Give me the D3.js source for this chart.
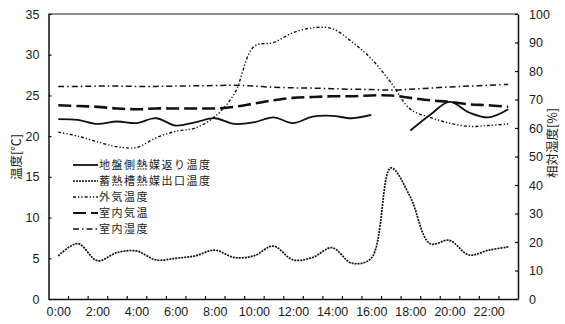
<!DOCTYPE html>
<html>
<head>
<meta charset="utf-8">
<script src="https://cdn.jsdelivr.net/npm/d3@7"></script>
<style>
  html, body { margin: 0; padding: 0; background: #fff; }
  svg { display: block; }
  .num { font-family: "Liberation Sans", Arial, sans-serif; font-size: 12.5px; fill: #1a1a1a; }
  .jp { font-family: "Noto Sans CJK JP", sans-serif; font-size: 12.5px; fill: #1a1a1a; }
  .leg { font-family: "Noto Sans CJK JP", sans-serif; font-size: 11px; letter-spacing: 1.5px; fill: #1a1a1a; }
</style>
</head>
<body>
<svg id="chart" width="565" height="324"></svg>
<script>
// Hourly categories 0:00 .. 23:00
const hours = d3.range(24);
const hourLabels = [0, 2, 4, 6, 8, 10, 12, 14, 16, 18, 20, 22];

// Temperatures [°C] (left axis)
const groundReturnTemp = [22.1, 22.0, 21.5, 21.8, 21.6, 22.2, 21.3, 21.7, 22.2, 21.5, 21.7, 22.3,
                          21.6, 22.4, 22.5, 22.2, 22.6, null, 20.7, 22.6, 24.2, 22.9, 22.3, 23.3];
const storageOutletTemp = [5.3, 6.8, 4.7, 5.7, 5.9, 4.8, 5.0, 5.3, 6.0, 5.1, 5.3, 6.5,
                           4.8, 5.1, 6.3, 4.4, 5.0, 16.1, 12.5, 6.8, 7.2, 5.4, 6.0, 6.4];
const outdoorTemp = [20.5, 20.0, 19.3, 18.7, 18.6, 19.8, 20.6, 21.0, 22.4, 25.2, 31.0, 31.5,
                     32.7, 33.3, 33.2, 31.6, 29.5, 26.6, 23.3, 22.3, 21.6, 21.2, 21.3, 21.5];
const indoorTemp = [23.8, 23.7, 23.6, 23.4, 23.3, 23.4, 23.4, 23.4, 23.4, 23.6, 24.0, 24.4,
                    24.7, 24.8, 24.9, 24.9, 25.0, 25.0, 24.7, 24.4, 24.2, 23.9, 23.8, 23.6];
// Relative humidity [%] (right axis)
const indoorHumidity = [74.6, 74.6, 74.7, 74.7, 74.6, 74.6, 74.7, 74.8, 74.9, 75.0, 74.7, 74.3,
                        74.1, 74.0, 73.8, 73.6, 73.5, 73.3, 73.6, 74.0, 74.4, 74.7, 75.0, 75.3];

const tempTicks = [0, 5, 10, 15, 20, 25, 30, 35];
const humTicks = [0, 10, 20, 30, 40, 50, 60, 70, 80, 90, 100];

const svg = d3.select("#chart");
const plotLeft = 48.5, plotRight = 518, plotTop = 14, plotBottom = 299;

const x = d3.scaleLinear().domain([0, 24]).range([plotLeft, plotRight]);
const yT = d3.scaleLinear().domain([0, 35]).range([plotBottom, plotTop]);
const yH = d3.scaleLinear().domain([0, 100]).range([plotBottom, plotTop]);

// Frame top edge
svg.append("line")
  .attr("x1", plotLeft).attr("x2", plotRight).attr("y1", plotTop).attr("y2", plotTop)
  .attr("stroke", "#222").attr("stroke-width", 1.2);

// Axes
const axisStyle = g => {
  g.select(".domain").attr("stroke", "#111").attr("stroke-width", 1.5);
  g.selectAll(".tick line").attr("stroke", "#111").attr("stroke-width", 1.2);
  g.selectAll("text").attr("class", "num").attr("fill", null);
  g.attr("font-family", null).attr("font-size", null);
};

svg.append("g").attr("transform", `translate(${plotLeft},0)`)
  .call(d3.axisLeft(yT).tickValues(tempTicks).tickSizeInner(-3).tickSizeOuter(0).tickPadding(9))
  .call(axisStyle);

svg.append("g").attr("transform", `translate(${plotRight},0)`)
  .call(d3.axisRight(yH).tickValues(humTicks).tickSizeInner(-3).tickSizeOuter(0).tickPadding(11))
  .call(axisStyle);

// hour boundary tick marks
svg.append("g").attr("transform", `translate(0,${plotBottom})`)
  .call(d3.axisBottom(x).tickValues(d3.range(1, 24)).tickSizeInner(-3).tickSizeOuter(0).tickFormat(""))
  .call(axisStyle);

// hour labels at category centres
svg.append("g").attr("transform", `translate(0,${plotBottom})`)
  .call(d3.axisBottom(x).tickValues(hourLabels.map(h => h + 0.5)).tickSize(0).tickPadding(8)
        .tickFormat(d => `${Math.floor(d)}:00`))
  .call(g => g.select(".domain").remove())
  .call(axisStyle);

// Axis titles
svg.append("text").attr("class", "jp")
  .attr("transform", `translate(21,157) rotate(-90)`)
  .attr("text-anchor", "middle").text("温度[℃]");
svg.append("text").attr("class", "jp")
  .attr("transform", `translate(557,143) rotate(-90)`)
  .attr("text-anchor", "middle").text("相対湿度[%]");

// Series
const series = [
  { name: "地盤側熱媒返り温度", values: groundReturnTemp, y: yT, dash: null, width: 1.8 },
  { name: "蓄熱槽熱媒出口温度", values: storageOutletTemp, y: yT, dash: "2,1", width: 1.7 },
  { name: "外気温度", values: outdoorTemp, y: yT, dash: "3,2,1.3,2,1.3,2", width: 1.4 },
  { name: "室内気温", values: indoorTemp, y: yT, dash: "13,5", width: 2.6 },
  { name: "室内湿度", values: indoorHumidity, y: yH, dash: "6,3,1.5,3", width: 1.5 }
];

series.forEach(s => {
  const line = d3.line()
    .defined(d => d != null)
    .x((d, i) => x(hours[i] + 0.5))
    .y(d => s.y(d))
    .curve(d3.curveCatmullRom.alpha(0.5));
  svg.append("path")
    .datum(s.values)
    .attr("fill", "none")
    .attr("stroke", "#111")
    .attr("stroke-width", s.width)
    .attr("stroke-dasharray", s.dash)
    .attr("d", line);
});

// Legend
const legend = svg.append("g").attr("transform", "translate(73,165)");
series.forEach((s, i) => {
  const row = legend.append("g").attr("transform", `translate(0,${i * 16})`);
  row.append("line")
    .attr("x1", 0).attr("x2", 25).attr("y1", 0).attr("y2", 0)
    .attr("stroke", "#111")
    .attr("stroke-width", Math.min(s.width, 2.2))
    .attr("stroke-dasharray", s.dash);
  row.append("text").attr("class", "leg")
    .attr("x", 26).attr("y", 0).attr("dy", "0.35em")
    .text(s.name);
});
</script>
</body>
</html>
